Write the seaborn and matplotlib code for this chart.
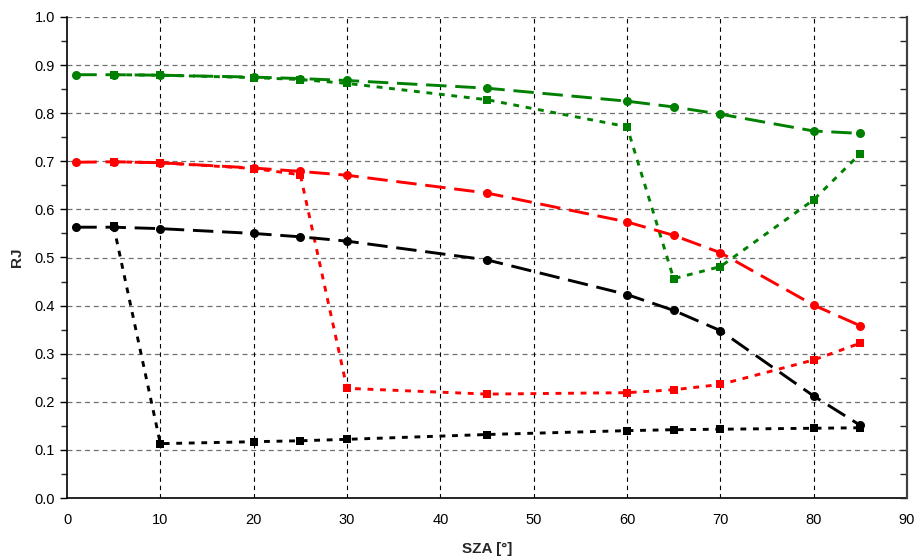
import matplotlib
matplotlib.use("Agg")
import matplotlib.pyplot as plt
import seaborn as sns
import numpy as np
from matplotlib.ticker import MultipleLocator

sza_circ = [1, 5, 10, 20, 25, 30, 45, 60, 65, 70, 80, 85]
sza_sq = [5, 10, 20, 25, 30, 45, 60, 65, 70, 80, 85]

black_circ = [0.563, 0.563, 0.560, 0.550, 0.543, 0.534, 0.495, 0.423, 0.390, 0.348, 0.212, 0.151]
black_sq = [0.565, 0.113, 0.117, 0.119, 0.122, 0.132, 0.140, 0.142, 0.143, 0.145, 0.146]
red_circ = [0.698, 0.699, 0.697, 0.686, 0.679, 0.671, 0.634, 0.574, 0.546, 0.510, 0.401, 0.358]
red_sq = [0.699, 0.697, 0.685, 0.672, 0.228, 0.216, 0.219, 0.225, 0.236, 0.287, 0.322]
green_circ = [0.880, 0.880, 0.879, 0.875, 0.872, 0.868, 0.852, 0.825, 0.813, 0.798, 0.763, 0.758]
green_sq = [0.880, 0.879, 0.874, 0.870, 0.862, 0.828, 0.772, 0.456, 0.481, 0.620, 0.716]

x_label = "SZA [°]"
y_label = "RJ"

sns.set_style("white")
plt.rcParams['font.family'] = ['Liberation Sans', 'DejaVu Sans']

fig = plt.figure(figsize=(9.17, 5.58), dpi=100)
ax = fig.add_axes([67/917, 1-498/558, 840/917, 481/558])

series = [
    (sza_sq, green_sq, "#008000", "s", (0, (2, 2.3))),
    (sza_sq, red_sq, "#FF0000", "s", (0, (2, 2.3))),
    (sza_sq, black_sq, "#000000", "s", (0, (2, 2.3))),
    (sza_circ, green_circ, "#008000", "o", (0, (7, 3))),
    (sza_circ, red_circ, "#FF0000", "o", (0, (7, 3))),
    (sza_circ, black_circ, "#000000", "o", (0, (7, 3))),
]
for xs, vals, col, mk, ls in series:
    sns.lineplot(x=xs, y=vals, ax=ax, color=col, marker=mk, linestyle=ls,
                 linewidth=2.1, markersize=6.5 if mk == "o" else 5.2,
                 markeredgewidth=0, sort=False, zorder=3)

ax.set_xlim(0, 90)
ax.set_ylim(0, 1.0)
ax.xaxis.set_major_locator(MultipleLocator(10))
ax.xaxis.set_minor_locator(MultipleLocator(5))
ax.yaxis.set_major_locator(MultipleLocator(0.1))
ax.yaxis.set_minor_locator(MultipleLocator(0.05))
ax.yaxis.set_major_formatter(matplotlib.ticker.FormatStrFormatter('%.1f'))

ax.tick_params(axis='both', which='major', direction='out', length=5, width=1,
               labelsize=10.5, colors='black')
ax.tick_params(axis='both', which='minor', direction='out', length=4, width=1)
ax.tick_params(axis='x', pad=6)

ax.grid(False)
for y in np.arange(0.1, 1.01, 0.1):
    ax.axhline(y, color='#707070', linestyle=(0, (4, 3)), linewidth=0.9, zorder=1)
for x in range(10, 90, 10):
    ax.axvline(x, color='black', linestyle=(0, (4, 3.5)), linewidth=0.8, zorder=1)

for s in ['left', 'bottom']:
    ax.spines[s].set_color('black')
    ax.spines[s].set_linewidth(1.2)
ax.spines['top'].set_visible(False)
ax.spines['right'].set_color('#404040')
ax.spines['right'].set_linewidth(1.5)

ax2 = ax.twinx()
ax2.set_ylim(0, 1.0)
ax2.yaxis.set_major_locator(MultipleLocator(0.1))
ax2.yaxis.set_minor_locator(MultipleLocator(0.05))
ax2.tick_params(axis='y', which='both', direction='in', length=5, width=1, labelright=False)
for s in ['left', 'bottom', 'top']:
    ax2.spines[s].set_visible(False)
ax2.spines['right'].set_color('#404040')
ax2.spines['right'].set_linewidth(1.5)

ax.set_xlabel(x_label, fontsize=11, fontweight='bold', labelpad=10.5)
ax.set_ylabel(y_label, fontsize=11, fontweight='bold', labelpad=8)

fig.savefig("out.png", dpi=100)
